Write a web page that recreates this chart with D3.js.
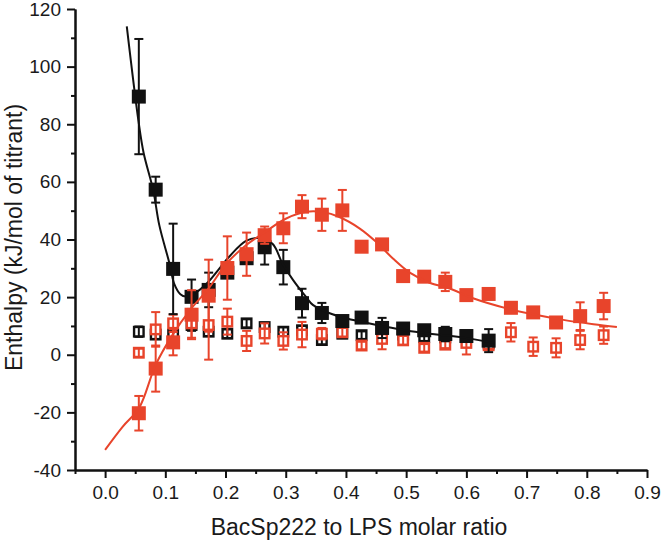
<!DOCTYPE html>
<html>
<head>
<meta charset="utf-8">
<script src="https://cdn.jsdelivr.net/npm/d3@7"></script>
<style>
  html, body { margin: 0; padding: 0; background: #fff; }
  svg { display: block; }
  text { font-family: "Liberation Sans", Arial, sans-serif; }
</style>
</head>
<body>
<svg id="chart" width="661" height="540"></svg>
<script>
// ---------- data ----------
const ratio = [0.056,0.084,0.113,0.1436,0.172,0.203,0.235,0.265,0.296,0.327,0.36,0.394,
               0.426,0.46,0.495,0.53,0.565,0.6,0.637,0.674,0.711,0.749,0.789,0.828];

// black filled squares (first 19 ratios)
const blackFilled    = [89.6,57.3,29.8,20.1,22.5,28.5,33.5,37.3,30.4,17.9,14.5,11.7,12.9,9.3,9.1,8.5,7.2,6.5,4.9];
const blackFilledErr = [20,4.5,15.7,6,6,1.5,1.5,6,6,5,3.5,1,1,3.5,1,1,2.5,1,4];

// black open squares (first 19 ratios)
const blackOpen    = [8.0,7.0,7.0,10.3,8.0,7.3,10.9,9.6,8.0,8.5,5.1,7.3,6.8,8.5,7.0,6.1,6.0,6.2,3.9];
const blackOpenErr = [1.8,1.5,1.5,2,1.5,1.5,1.4,1.5,1.5,1.5,1.5,1.5,1.3,1.5,1.5,1.3,1.5,1.5,1.3];

// red filled squares (24 ratios)
const redFilled    = [-20.3,-4.8,4.3,13.9,20.5,30.1,34.9,41.5,43.9,51.4,48.6,50.1,37.5,38.3,27.3,27.1,25.3,20.7,21.1,16.3,14.7,11.2,13.4,16.9];
const redFilledErr = [6,8,4.5,8.5,12.5,11,7.5,3,5.2,4,5.6,7.1,0,0,0,0,3.2,0,0,0,0,0,4.8,4.6];

// red open squares (24 ratios)
const redOpen    = [0.7,8.8,10.9,10.9,10.3,11.5,4.8,7.4,4.8,7.0,7.3,7.8,3.2,5.5,5.0,2.4,3.5,4.1,3.3,7.8,2.8,2.4,5.1,6.8];
const redOpenErr = [1.4,6,3,5,12,4.5,3.5,3.5,3,4.4,2,1.5,1.3,3.6,1.5,1.3,1.2,4,1.3,3.2,3.2,3.3,3.2,3];

// fitted curves
const blackFitX = [0.036,0.0555,0.064,0.08,0.09,0.1065,0.115,0.125,0.134,0.15,0.17,0.19,0.206,0.234,0.256,0.278,0.295,0.312,0.334,0.345,0.373,0.4,0.45,0.495,0.539,0.575,0.606,0.647];
const blackFitY = [114,81,70,57,45,32,24.5,21,20.2,21.5,25,30,34,39.5,40.5,38.5,31.5,26,20,17.3,14.4,12.7,10.4,8.6,7.3,6.5,5.6,4.0];
const redFitX = [0.0,0.029,0.0566,0.084,0.112,0.141,0.172,0.201,0.234,0.267,0.3,0.334,0.362,0.389,0.423,0.45,0.478,0.506,0.539,0.572,0.611,0.667,0.717,0.761,0.811,0.85];
const redFitY = [-33,-25,-18.4,-3.5,6.9,15.5,23,31.5,38,42.8,47.2,49.6,49.5,47.8,43.8,39.2,33.4,28.5,25,23,19.6,16.1,13.8,12.1,10.6,9.6];

// axis ticks
const xMajorTicks = [0,0.1,0.2,0.3,0.4,0.5,0.6,0.7,0.8,0.9];
const xMinorTicks = [-0.05,0.05,0.15,0.25,0.35,0.45,0.55,0.65,0.75,0.85];
const yMajorTicks = [-40,-20,0,20,40,60,80,100,120];
const yMinorTicks = [-30,-10,10,30,50,70,90,110];

const xTitle = "BacSp222 to LPS molar ratio";
const yTitle = "Enthalpy (kJ/mol of titrant)";

// ---------- drawing ----------
const RED = "#e8442b", BLACK = "#111111";
const svg = d3.select("#chart");
const x = d3.scaleLinear().domain([-0.05, 0.9]).range([75, 647]);
const y = d3.scaleLinear().domain([-40, 120]).range([470, 9]);

function styleAxis(g) {
  g.selectAll(".domain").attr("stroke", BLACK).attr("stroke-width", 2);
  g.selectAll(".tick line").attr("stroke", BLACK).attr("stroke-width", 2);
  g.selectAll("text").attr("fill", "#1a1a1a").style("font-size", "19px")
    .style("font-family", "'Liberation Sans', Arial, sans-serif");
}

// x axis
const gx = svg.append("g").attr("transform", `translate(0,${y(-40)})`)
  .call(d3.axisBottom(x).tickValues(xMajorTicks).tickFormat(d => d.toFixed(1))
        .tickSize(8).tickPadding(8).tickSizeOuter(0));
styleAxis(gx);
const gxm = svg.append("g").attr("transform", `translate(0,${y(-40)})`)
  .call(d3.axisBottom(x).tickValues(xMinorTicks).tickFormat("").tickSize(4).tickSizeOuter(0));
styleAxis(gxm);

// y axis
const gy = svg.append("g").attr("transform", `translate(${x(-0.05)},0)`)
  .call(d3.axisLeft(y).tickValues(yMajorTicks).tickFormat(d => String(d))
        .tickSize(8).tickPadding(6).tickSizeOuter(0));
styleAxis(gy);
const gym = svg.append("g").attr("transform", `translate(${x(-0.05)},0)`)
  .call(d3.axisLeft(y).tickValues(yMinorTicks).tickFormat("").tickSize(4).tickSizeOuter(0));
styleAxis(gym);

// titles
svg.append("text").attr("x", 359).attr("y", 535).attr("text-anchor", "middle")
  .style("font-size", "23px").attr("fill", "#1a1a1a").text(xTitle);
svg.append("text").attr("transform", "translate(22,237.5) rotate(-90)")
  .attr("text-anchor", "middle").style("font-size", "23px").attr("fill", "#1a1a1a").text(yTitle);

// helpers
function makeData(vals, errs) {
  return vals.map((v, i) => ({ x: ratio[i], y: v, e: errs[i] }));
}
const CAP = 4.5;
function drawErrors(data, color) {
  const g = svg.append("g").attr("stroke", color).attr("stroke-width", 2).attr("fill", "none");
  data.filter(d => d.e > 0).forEach(d => {
    const cx = x(d.x), y1 = y(d.y + d.e), y2 = y(d.y - d.e);
    g.append("line").attr("x1", cx).attr("x2", cx).attr("y1", y1).attr("y2", y2);
    g.append("line").attr("x1", cx - CAP).attr("x2", cx + CAP).attr("y1", y1).attr("y2", y1);
    g.append("line").attr("x1", cx - CAP).attr("x2", cx + CAP).attr("y1", y2).attr("y2", y2);
  });
}
function drawOpen(data, color) {
  const s = 9.5;
  svg.append("g").selectAll("rect").data(data).join("rect")
    .attr("x", d => x(d.x) - s / 2).attr("y", d => y(d.y) - s / 2)
    .attr("width", s).attr("height", s)
    .attr("fill", "#fff").attr("stroke", color).attr("stroke-width", 2.4);
}
function drawFilled(data, color) {
  const s = 14;
  svg.append("g").selectAll("rect").data(data).join("rect")
    .attr("x", d => x(d.x) - s / 2).attr("y", d => y(d.y) - s / 2)
    .attr("width", s).attr("height", s).attr("fill", color);
}
function drawFit(xs, ys, color) {
  const line = d3.line().x(d => x(d[0])).y(d => y(d[1])).curve(d3.curveCatmullRom.alpha(0.5));
  svg.append("path").datum(xs.map((v, i) => [v, ys[i]]))
    .attr("d", line).attr("fill", "none").attr("stroke", color).attr("stroke-width", 2);
}

const bo = makeData(blackOpen, blackOpenErr);
const ro = makeData(redOpen, redOpenErr);
const bf = makeData(blackFilled, blackFilledErr);
const rf = makeData(redFilled, redFilledErr);

drawOpen(bo, BLACK); drawErrors(bo, BLACK);
drawOpen(ro, RED);   drawErrors(ro, RED);
drawErrors(bf, BLACK); drawFilled(bf, BLACK);
drawFit(blackFitX, blackFitY, BLACK);
drawErrors(rf, RED); drawFilled(rf, RED);
drawFit(redFitX, redFitY, RED);
</script>
</body>
</html>
